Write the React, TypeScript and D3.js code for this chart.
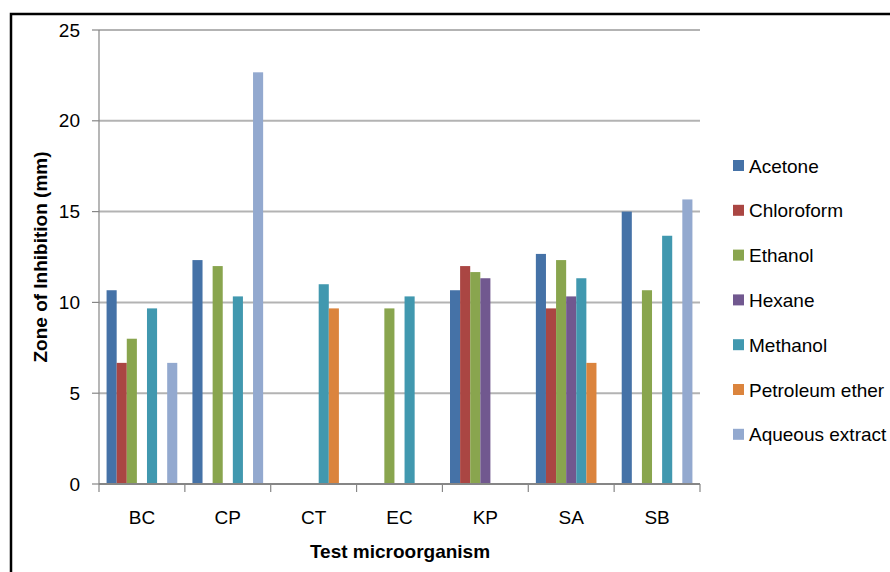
import React, { useRef, useEffect } from "react";
import * as d3 from "d3";

const categories = ["BC", "CP", "CT", "EC", "KP", "SA", "SB"];
const seriesNames = ["Acetone", "Chloroform", "Ethanol", "Hexane", "Methanol", "Petroleum ether", "Aqueous extract"];
const seriesColors = ["#4572A7", "#AA4643", "#89A54E", "#71588F", "#4198AF", "#DB843D", "#93A9CF"];

// values per series, in category order (0 = no zone)
const acetone = [10.67, 12.33, 0, 0, 10.67, 12.67, 15];
const chloroform = [6.67, 0, 0, 0, 12, 9.67, 0];
const ethanol = [8, 12, 0, 9.67, 11.67, 12.33, 10.67];
const hexane = [0, 0, 0, 0, 11.33, 10.33, 0];
const methanol = [9.67, 10.33, 11, 10.33, 0, 11.33, 13.67];
const petroleumEther = [0, 0, 9.67, 0, 0, 6.67, 0];
const aqueous = [6.67, 22.67, 0, 0, 0, 0, 15.67];

const seriesValues = [acetone, chloroform, ethanol, hexane, methanol, petroleumEther, aqueous];
const yTicks = [0, 5, 10, 15, 20, 25];

const W = 890;
const H = 572;
const FONT = "'Liberation Sans Narrow', 'Liberation Sans', Arial, sans-serif";

export default function App() {
  const svgRef = useRef<SVGSVGElement>(null);

  useEffect(() => {
    if (!svgRef.current) return;
    const svg = d3.select(svgRef.current);
    svg.selectAll("*").remove();

    const left = 99, right = 700, top = 30, bottom = 484;

    const x = d3.scaleBand<string>().domain(categories).range([left, right]).paddingInner(0).paddingOuter(0);
    const y = d3.scaleLinear().domain([0, 25]).range([bottom, top]);
    const inner = d3.scaleBand<number>()
      .domain(d3.range(seriesNames.length))
      .range([0, x.bandwidth()])
      .paddingOuter(0.75)
      .paddingInner(0);

    // frame
    svg.append("rect")
      .attr("x", 11).attr("y", 14)
      .attr("width", W).attr("height", H)
      .attr("fill", "none").attr("stroke", "#000").attr("stroke-width", 2.5);

    // gridlines
    svg.append("g").selectAll("line")
      .data(yTicks.filter(t => t > 0))
      .enter().append("line")
      .attr("x1", left).attr("x2", right)
      .attr("y1", d => y(d)).attr("y2", d => y(d))
      .attr("stroke", "#b3b3b3").attr("stroke-width", 2);

    // bars
    seriesValues.forEach((vals, si) => {
      svg.append("g").selectAll("rect")
        .data(vals.map((v, ci) => ({ v, c: categories[ci] })).filter(d => d.v > 0))
        .enter().append("rect")
        .attr("x", d => (x(d.c) as number) + (inner(si) as number))
        .attr("y", d => y(d.v))
        .attr("width", inner.bandwidth())
        .attr("height", d => bottom - y(d.v))
        .attr("fill", seriesColors[si]);
    });

    // y axis
    svg.append("line")
      .attr("x1", left).attr("x2", left).attr("y1", top).attr("y2", bottom)
      .attr("stroke", "#868686").attr("stroke-width", 1.2);
    svg.append("g").selectAll("line")
      .data(yTicks).enter().append("line")
      .attr("x1", left - 7).attr("x2", left)
      .attr("y1", d => y(d)).attr("y2", d => y(d))
      .attr("stroke", "#868686").attr("stroke-width", 1.2);
    svg.append("g").selectAll("text")
      .data(yTicks).enter().append("text")
      .attr("x", 80).attr("y", d => y(d))
      .attr("dy", "0.35em")
      .attr("text-anchor", "end")
      .attr("font-family", FONT).attr("font-size", 19).attr("fill", "#000")
      .text(d => d);

    // x axis
    svg.append("line")
      .attr("x1", left).attr("x2", right).attr("y1", bottom).attr("y2", bottom)
      .attr("stroke", "#868686").attr("stroke-width", 2);
    const edges = categories.map(c => x(c) as number).concat([right]);
    svg.append("g").selectAll("line")
      .data(edges).enter().append("line")
      .attr("x1", d => d).attr("x2", d => d)
      .attr("y1", bottom).attr("y2", bottom + 8)
      .attr("stroke", "#868686").attr("stroke-width", 1.2);
    svg.append("g").selectAll("text")
      .data(categories).enter().append("text")
      .attr("x", d => (x(d) as number) + x.bandwidth() / 2)
      .attr("y", 524)
      .attr("text-anchor", "middle")
      .attr("font-family", FONT).attr("font-size", 19).attr("fill", "#000")
      .text(d => d);

    // axis titles
    svg.append("text")
      .attr("x", 400).attr("y", 558)
      .attr("text-anchor", "middle")
      .attr("font-family", FONT).attr("font-size", 19).attr("font-weight", "bold")
      .text("Test microorganism");
    svg.append("text")
      .attr("transform", "translate(47,257) rotate(-90)")
      .attr("text-anchor", "middle")
      .attr("font-family", FONT).attr("font-size", 19).attr("font-weight", "bold")
      .text("Zone of Inhibition (mm)");

    // legend
    const legend = svg.append("g").selectAll("g")
      .data(seriesNames).enter().append("g")
      .attr("transform", (_, i) => `translate(733,${166 + i * 44.8})`);
    legend.append("rect")
      .attr("x", 0).attr("y", -6).attr("width", 11).attr("height", 11)
      .attr("fill", (_, i) => seriesColors[i]);
    legend.append("text")
      .attr("x", 16).attr("y", 0).attr("dy", "0.35em")
      .attr("font-family", FONT).attr("font-size", 19).attr("fill", "#000")
      .text(d => d);
  }, []);

  return (
    <svg
      ref={svgRef}
      width={W}
      height={H}
      style={{ position: "fixed", left: 0, top: 0, background: "#fff" }}
    />
  );
}
